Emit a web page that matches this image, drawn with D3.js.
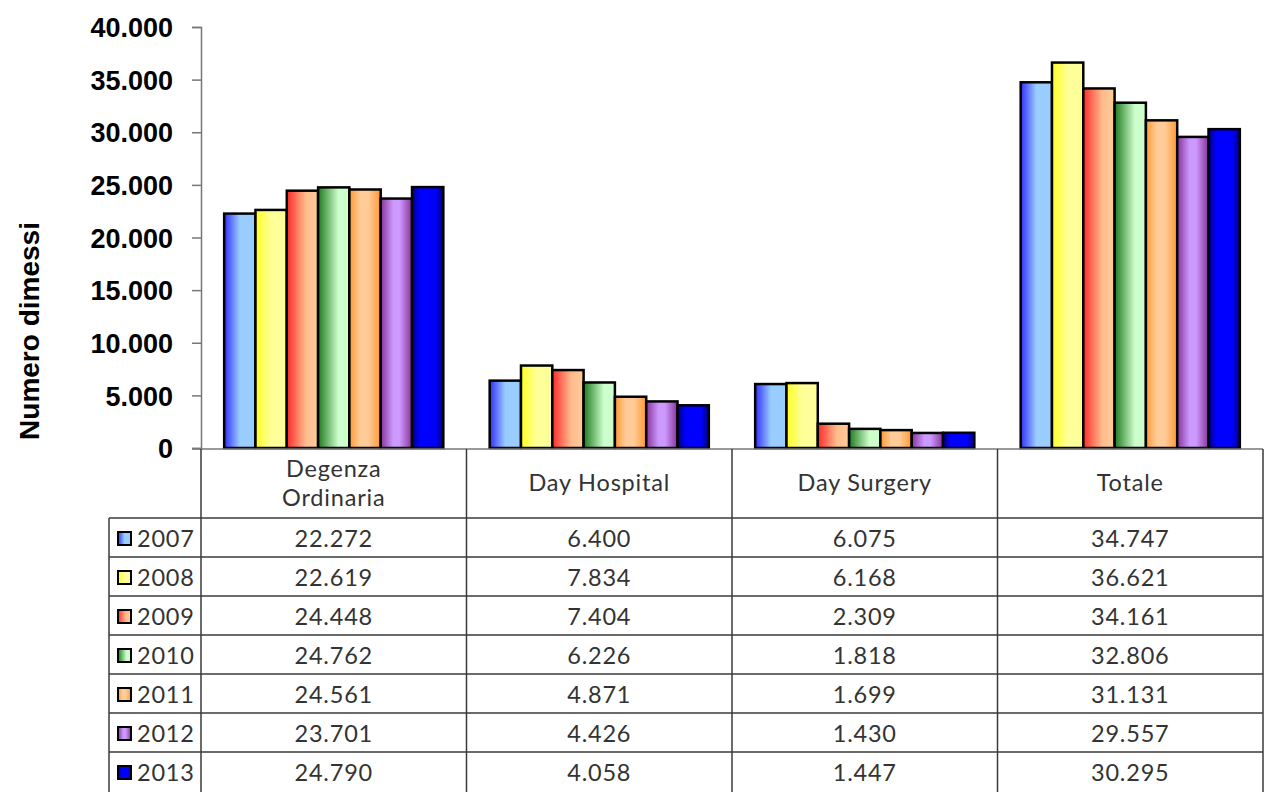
<!DOCTYPE html>
<html>
<head>
<meta charset="utf-8">
<script src="https://cdn.jsdelivr.net/npm/d3@7"></script>
<style>
  body { margin: 0; background: #fff; }
  .tick-label { font-family: "Liberation Sans", Arial, sans-serif; font-weight: bold; font-size: 27px; fill: #000; }
  .axis-title { font-family: "Liberation Sans", Arial, sans-serif; font-weight: bold; font-size: 28px; fill: #000; }
  .cell { font-family: "Century Gothic", "URW Gothic", "Lato", "DejaVu Sans", sans-serif; font-size: 23.5px; letter-spacing: 0.8px; fill: #333; }
</style>
</head>
<body>
<script>
"use strict";

// Anni (serie) e categorie
var years = ["2007", "2008", "2009", "2010", "2011", "2012", "2013"];
var categories = ["Degenza Ordinaria", "Day Hospital", "Day Surgery", "Totale"];
var headerLines = [["Degenza", "Ordinaria"], ["Day Hospital"], ["Day Surgery"], ["Totale"]];

// Numero dimessi per anno, nell'ordine delle categorie
var values2007 = [22272, 6400, 6075, 34747];
var values2008 = [22619, 7834, 6168, 36621];
var values2009 = [24448, 7404, 2309, 34161];
var values2010 = [24762, 6226, 1818, 32806];
var values2011 = [24561, 4871, 1699, 31131];
var values2012 = [23701, 4426, 1430, 29557];
var values2013 = [24790, 4058, 1447, 30295];

var yTicks = [0, 5000, 10000, 15000, 20000, 25000, 30000, 35000, 40000];

var series = [values2007, values2008, values2009, values2010, values2011, values2012, values2013];

// gradienti orizzontali in stile Excel
var gradients = [
  [[0, "#2f2fff"], [0.5, "#99ccff"], [1, "#99ccff"]],
  [[0, "#ffff22"], [0.5, "#ffff99"], [1, "#ffff99"]],
  [[0, "#ff2a2a"], [0.6, "#ffbb8c"], [1, "#ffcc99"]],
  [[0, "#1f7a1f"], [0.65, "#ccffcc"], [1, "#ccffcc"]],
  [[0, "#ff9933"], [0.35, "#ffcc99"], [0.6, "#ffcc99"], [1, "#ff9933"]],
  [[0, "#883399"], [0.4, "#cc99ff"], [0.6, "#cc99ff"], [1, "#883399"]],
  [[0, "#00007a"], [0.25, "#0000ff"], [0.75, "#0000ff"], [1, "#00007a"]]
];

/*
  Setup
*/
var W = 1265, H = 792;
var plotLeft = 201, plotRight = 1263, plotTop = 27, plotBase = 448;
var headerBottom = 518, rowH = 39, legendLeft = 109;

var it = d3.formatLocale({decimal: ",", thousands: ".", grouping: [3], currency: ["€", ""]});
var fmt = it.format(",d");

var svg = d3.select("body")
  .append("svg")
  .attr("width", W)
  .attr("height", H);

var defs = svg.append("defs");
gradients.forEach(function (g, i) {
  var lg = defs.append("linearGradient")
    .attr("id", "grad" + i)
    .attr("x1", 0).attr("x2", 1).attr("y1", 0).attr("y2", 0);
  g.forEach(function (s) {
    lg.append("stop").attr("offset", s[0]).attr("stop-color", s[1]);
  });
});

var x0 = d3.scaleBand()
  .domain(categories)
  .range([plotLeft, plotRight]);

var x1 = d3.scaleBand()
  .domain(years)
  .range([0, x0.bandwidth()])
  .paddingInner(0)
  .paddingOuter(0.74);

var y = d3.scaleLinear()
  .domain([0, 40000])
  .range([plotBase, plotTop]);

/*
  Asse Y
*/
var yAxis = svg.append("g")
  .attr("transform", "translate(" + plotLeft + ",0)")
  .call(d3.axisLeft(y).tickValues(yTicks).tickSize(9).tickPadding(19).tickFormat(fmt));

yAxis.select(".domain").attr("stroke", "#777").attr("stroke-width", 1.5);
yAxis.selectAll(".tick line").attr("stroke", "#777").attr("stroke-width", 1.5);
yAxis.attr("font-family", null).attr("font-size", null);
yAxis.selectAll(".tick text")
  .attr("class", "tick-label")
  .attr("dy", "0.36em");

svg.append("text")
  .attr("class", "axis-title")
  .attr("transform", "translate(39,331) rotate(-90)")
  .attr("text-anchor", "middle")
  .text("Numero dimessi");

/*
  Barre
*/
var groups = svg.selectAll("g.cat")
  .data(categories)
  .enter()
  .append("g")
  .attr("class", "cat")
  .attr("transform", function (d) { return "translate(" + x0(d) + ",0)"; });

groups.selectAll("rect")
  .data(function (d, ci) {
    return years.map(function (yr, si) { return {year: yr, si: si, value: series[si][ci]}; });
  })
  .enter()
  .append("rect")
  .attr("x", function (d) { return x1(d.year); })
  .attr("y", function (d) { return y(d.value); })
  .attr("width", x1.bandwidth())
  .attr("height", function (d) { return y(0) - y(d.value); })
  .attr("fill", function (d) { return "url(#grad" + d.si + ")"; })
  .attr("stroke", "#000")
  .attr("stroke-width", 2.5);

/*
  Tabella dati
*/
var grid = svg.append("g")
  .attr("stroke", "#3a3a3a")
  .attr("stroke-width", 1.5)
  .attr("fill", "none");

var tableBottom = headerBottom + rowH * years.length + 5;

// linea di base / bordo superiore dell'intestazione
grid.append("line")
  .attr("x1", plotLeft - 9).attr("x2", plotRight)
  .attr("y1", y(0) + 1).attr("y2", y(0) + 1)
  .attr("stroke", "#777");

// divisori verticali delle categorie
var vlines = categories.map(function (c) { return x0(c); }).concat([plotRight]);
grid.selectAll("line.v")
  .data(vlines)
  .enter()
  .append("line")
  .attr("class", "v")
  .attr("x1", function (d) { return d; }).attr("x2", function (d) { return d; })
  .attr("y1", y(0) + 1).attr("y2", tableBottom);

grid.append("line")
  .attr("x1", legendLeft).attr("x2", legendLeft)
  .attr("y1", headerBottom).attr("y2", tableBottom);

// righe orizzontali
grid.selectAll("line.h")
  .data(years)
  .enter()
  .append("line")
  .attr("class", "h")
  .attr("x1", legendLeft).attr("x2", plotRight)
  .attr("y1", function (d, i) { return headerBottom + i * rowH; })
  .attr("y2", function (d, i) { return headerBottom + i * rowH; });

// intestazioni
categories.forEach(function (c, i) {
  var lines = headerLines[i];
  var cy = (y(0) + headerBottom) / 2;
  svg.selectAll(null)
    .data(lines)
    .enter()
    .append("text")
    .attr("class", "cell")
    .attr("text-anchor", "middle")
    .attr("x", x0(c) + x0.bandwidth() / 2)
    .attr("y", function (d, k) { return cy + (k - (lines.length - 1) / 2) * 29; })
    .attr("dy", "0.36em")
    .text(function (d) { return d; });
});

// righe con legenda e valori
years.forEach(function (yr, si) {
  var cy = headerBottom + si * rowH + rowH / 2 + 1;

  svg.append("rect")
    .attr("x", 118).attr("y", cy - 6.5)
    .attr("width", 13).attr("height", 13)
    .attr("fill", "url(#grad" + si + ")")
    .attr("stroke", "#000")
    .attr("stroke-width", 2);

  svg.append("text")
    .attr("class", "cell")
    .attr("x", 137).attr("y", cy)
    .attr("dy", "0.36em")
    .text(yr);

  svg.selectAll(null)
    .data(categories)
    .enter()
    .append("text")
    .attr("class", "cell")
    .attr("text-anchor", "middle")
    .attr("x", function (c) { return x0(c) + x0.bandwidth() / 2; })
    .attr("y", cy)
    .attr("dy", "0.36em")
    .text(function (c, ci) { return fmt(series[si][ci]); });
});
</script>
</body>
</html>
